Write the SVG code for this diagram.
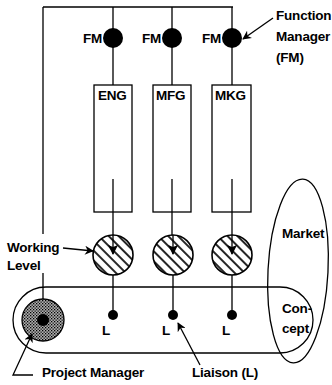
<svg xmlns="http://www.w3.org/2000/svg" width="332" height="385" viewBox="0 0 332 385">
<style>
  .ln{fill:none;stroke:#000;stroke-width:1.3}
  .box{fill:#fff;stroke:#000;stroke-width:1.3}
  .t{font-family:"Liberation Sans",Arial,sans-serif;font-size:13.5px;font-weight:bold;fill:#000;letter-spacing:-0.2px}
  .dot{fill:#000}
  .work{fill:url(#hatch);stroke:#000;stroke-width:1.6}
</style>
<defs>
  <pattern id="hatch" width="7" height="7" patternUnits="userSpaceOnUse" patternTransform="rotate(-45)">
    <rect width="7" height="7" fill="#fff"/>
    <line x1="1" y1="0" x2="1" y2="7" stroke="#000" stroke-width="1.7"/>
  </pattern>
  <pattern id="stip" width="3" height="3" patternUnits="userSpaceOnUse">
    <rect width="3" height="3" fill="#b0b0b0"/>
    <rect x="0" y="0" width="1.3" height="1.3" fill="#000"/>
    <rect x="1.5" y="1.5" width="1.3" height="1.3" fill="#111"/>
  </pattern>
  <marker id="ah" viewBox="0 0 10 10" refX="9" refY="5" markerWidth="9" markerHeight="9" markerUnits="userSpaceOnUse" orient="auto">
    <path d="M0,0 L10,5 L0,10 L3,5 Z" fill="#000"/>
  </marker>
  <marker id="ahw" viewBox="0 0 10 10" refX="9" refY="5" markerWidth="10" markerHeight="10" markerUnits="userSpaceOnUse" orient="auto">
    <path d="M0,0 L10,5 L0,10 L2,5 Z" fill="#000"/>
  </marker>
</defs>

<g id="connectors">
  <path class="ln" d="M43,7 H233"/>
  <path class="ln" d="M43,7 V234 M43,273 V320"/>
  <path class="ln" d="M113,7 V85 M172,7 V85 M232,7 V85"/>
  <path class="ln" d="M113,275 V315 M173,275 V315 M232,275 V315"/>
</g>

<g id="concept">
  <rect class="ln" x="13" y="287" width="300" height="66" rx="33" ry="33"/>
</g>
<g id="market">
  <ellipse class="ln" cx="298" cy="271" rx="30" ry="92" transform="rotate(3 298 271)"/>
  <text class="t" x="282" y="238">Market</text>
  <text class="t" x="282" y="313">Con-</text>
  <text class="t" x="282" y="333">cept</text>
</g>

<g id="eng">
  <rect class="box" x="94" y="85" width="38" height="127"/>
  <text class="t" x="98" y="100">ENG</text>
</g>
<g id="mfg">
  <rect class="box" x="153" y="85" width="38" height="127"/>
  <text class="t" x="156" y="100">MFG</text>
</g>
<g id="mkg">
  <rect class="box" x="212" y="85" width="39" height="127"/>
  <text class="t" x="215" y="100">MKG</text>
</g>

<g id="inner-lines">
  <path class="ln" d="M113,179 V253"/>
  <path class="ln" d="M172,179 V253"/>
  <path class="ln" d="M232,179 V253"/>
</g>

<g id="fm1">
  <circle class="dot" cx="113" cy="38" r="10"/>
  <text class="t" x="83" y="43">FM</text>
</g>
<g id="fm2">
  <circle class="dot" cx="172" cy="38" r="10"/>
  <text class="t" x="142" y="43">FM</text>
</g>
<g id="fm3">
  <circle class="dot" cx="232" cy="38" r="10"/>
  <text class="t" x="202" y="43">FM</text>
</g>

<g id="work1"><circle class="work" cx="113" cy="255" r="20"/></g>
<g id="work2"><circle class="work" cx="173" cy="255" r="20"/></g>
<g id="work3"><circle class="work" cx="232" cy="255" r="20"/></g>
<g id="work-arrows">
  <path class="ln" d="M113,235 V254" marker-end="url(#ahw)"/>
  <path class="ln" d="M173,235 V254" marker-end="url(#ahw)"/>
  <path class="ln" d="M232,235 V254" marker-end="url(#ahw)"/>
</g>

<g id="l1"><circle class="dot" cx="113" cy="315" r="5"/><text class="t" x="102" y="335">L</text></g>
<g id="l2"><circle class="dot" cx="173" cy="315" r="5"/><text class="t" x="162" y="335">L</text></g>
<g id="l3"><circle class="dot" cx="232" cy="315" r="5"/><text class="t" x="222" y="335">L</text></g>

<g id="pm">
  <circle cx="43" cy="320" r="21" fill="url(#stip)" stroke="#000" stroke-width="1.3"/>
  <circle class="dot" cx="43" cy="320" r="6"/>
</g>

<g id="labels">
  <text class="t" x="276" y="20">Function</text>
  <text class="t" x="276" y="41">Manager</text>
  <text class="t" x="276" y="62">(FM)</text>
  <path class="ln" d="M273,18 L243,39" marker-end="url(#ah)"/>
  <text class="t" x="7" y="252">Working</text>
  <text class="t" x="7" y="270">Level</text>
  <path class="ln" d="M63,248 L93,251" marker-end="url(#ah)"/>
  <text class="t" x="42" y="377">Project Manager</text>
  <path class="ln" d="M33,375 H13 L32,334" marker-end="url(#ah)"/>
  <text class="t" x="192" y="377">Liaison (L)</text>
  <path class="ln" d="M200,365 L178,323" marker-end="url(#ah)"/>
</g>
</svg>
